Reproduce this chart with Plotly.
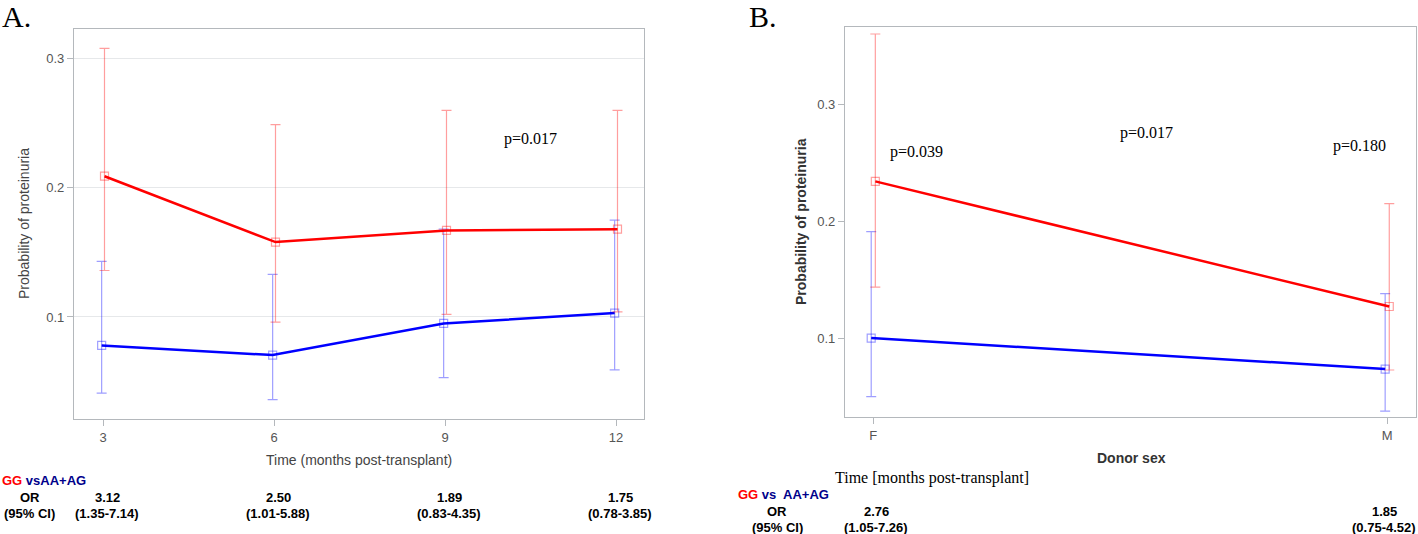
import plotly.graph_objects as go

W, H = 1418, 534

# ---------------- Data ----------------
months = [3, 6, 9, 12]
gg_a = [0.209, 0.158, 0.167, 0.168]
gg_a_hi = [0.308, 0.249, 0.260, 0.260]
gg_a_lo = [0.136, 0.096, 0.102, 0.104]
aa_a = [0.078, 0.0705, 0.095, 0.103]
aa_a_hi = [0.143, 0.133, 0.168, 0.175]
aa_a_lo = [0.041, 0.036, 0.053, 0.059]
or_a = ["3.12", "2.50", "1.89", "1.75"]
ci_a = ["(1.35-7.14)", "(1.01-5.88)", "(0.83-4.35)", "(0.78-3.85)"]

sex = ["F", "M"]
sex_pos = [0, 1]
gg_b = [0.234, 0.127]
gg_b_hi = [0.360, 0.215]
gg_b_lo = [0.1436, 0.0727]
aa_b = [0.100, 0.0735]
aa_b_hi = [0.191, 0.138]
aa_b_lo = [0.050, 0.0376]
or_b = ["2.76", "1.85"]
ci_b = ["(1.05-7.26)", "(0.75-4.52)"]

RED = "#ff0000"
BLUE = "#0000ff"
RED_L = "rgba(255,0,0,0.38)"
BLUE_L = "rgba(0,0,255,0.38)"
SANS = "Liberation Sans, Arial, sans-serif"
SERIF = "Liberation Serif, Times New Roman, serif"

def px(x):
    return x / W

def py(y):
    return 1 - y / H

def err(vals, hi, lo):
    return [h - v for v, h in zip(vals, hi)], [v - l for v, l in zip(vals, lo)]

fig = go.Figure()

def add_series(x, vals, hi, lo, col, col_l, xa, ya, dx):
    up, dn = err(vals, hi, lo)
    fig.add_trace(go.Scatter(
        x=[v + dx for v in x], y=vals, mode="lines+markers",
        line=dict(color=col, width=2.5),
        marker=dict(symbol="square-open", size=8, color=col_l, line=dict(width=1.2, color=col_l)),
        error_y=dict(type="data", array=up, arrayminus=dn, color=col_l, thickness=1.2, width=5),
        xaxis=xa, yaxis=ya, showlegend=False, hoverinfo="skip"))

DA = 0.05   # small dodge (months)
DB = 0.004  # small dodge (category units)
add_series(months, aa_a, aa_a_hi, aa_a_lo, BLUE, BLUE_L, "x", "y", -DA / 2)
add_series(months, gg_a, gg_a_hi, gg_a_lo, RED, RED_L, "x", "y", DA / 2)
add_series(sex_pos, aa_b, aa_b_hi, aa_b_lo, BLUE, BLUE_L, "x2", "y2", -DB)
add_series(sex_pos, gg_b, gg_b_hi, gg_b_lo, RED, RED_L, "x2", "y2", DB)

axis_common = dict(showline=True, linecolor="#b4b8bc", linewidth=1.3, mirror=True,
                   ticks="outside", tickcolor="#b4b8bc", ticklen=6,
                   tickfont=dict(family=SANS, size=13, color="#555555"), zeroline=False)

fig.update_layout(
    width=W, height=H, autosize=False,
    margin=dict(l=0, r=0, t=0, b=0),
    paper_bgcolor="white", plot_bgcolor="white",
    xaxis=dict(domain=[px(74), px(644)], range=[2.49, 12.49], tickvals=months,
               showgrid=False, anchor="y", **axis_common),
    yaxis=dict(domain=[py(419), py(29)], range=[0.021, 0.323], tickvals=[0.1, 0.2, 0.3],
               ticktext=["0.1", "0.2", "0.3"], showgrid=True, gridcolor="#e6e8ea",
               gridwidth=1, anchor="x", **axis_common),
    xaxis2=dict(domain=[px(845), px(1416)], range=[-0.055, 1.056], tickvals=sex_pos,
                ticktext=sex, showgrid=False, anchor="y2", **axis_common),
    yaxis2=dict(domain=[py(417), py(27)], range=[0.0325, 0.366], tickvals=[0.1, 0.2, 0.3],
                ticktext=["0.1", "0.2", "0.3"], showgrid=False, anchor="x2", **axis_common),
)

ann = []

def t(x, y, text, size=13, color="black", family=SANS, xanchor="center", angle=0, **kw):
    ann.append(dict(x=px(x), y=py(y), xref="paper", yref="paper", text=text, showarrow=False,
                    font=dict(size=size, color=color, family=family), xanchor=xanchor,
                    yanchor="middle", textangle=angle, **kw))

# Panel labels
t(0, 17, "A.", size=30, family=SERIF, xanchor="left")
t(747, 17, "B.", size=30, family=SERIF, xanchor="left")

# Axis titles
t(24, 224, "Probability of proteinuria", size=14, color="#444444", angle=-90)
t(359, 460, "Time (months post-transplant)", size=14, color="#444444")
t(801, 222, "<b>Probability of proteinuria</b>", size=14, color="#333333", angle=-90)
t(1131, 458, "<b>Donor sex</b>", size=14, color="#333333")
t(932, 478, "Time [months post-transplant]", size=16, family=SERIF)

# p-values
t(530, 139, "p=0.017", size=16, family=SERIF)
t(916, 152, "p=0.039", size=16, family=SERIF)
t(1146, 133, "p=0.017", size=16, family=SERIF)
t(1359, 146, "p=0.180", size=16, family=SERIF)

# Table under A
t(0, 480, "<b><span style='color:#ff0000'>GG</span> <span style='color:#00008b'>vsAA+AG</span></b>",
  size=13, xanchor="left")
t(30, 497, "<b>OR</b>", size=13)
t(30, 513, "<b>(95% CI)</b>", size=13)
for m, o, c in zip(months, or_a, ci_a):
    for yy, txt in ((497, "<b>" + o + "</b>"), (513, "<b>" + c + "</b>")):
        ann.append(dict(x=m, y=py(yy), xref="x", yref="paper", text=txt, showarrow=False,
                        xshift=4, font=dict(size=13, color="black", family=SANS),
                        xanchor="center", yanchor="middle"))

# Table under B
t(736, 494, "<b><span style='color:#ff0000'>GG</span> <span style='color:#00008b'>vs  AA+AG</span></b>",
  size=13, xanchor="left")
t(777, 511, "<b>OR</b>", size=13)
t(777, 527, "<b>(95% CI)</b>", size=13)
for p, o, c in zip(sex_pos, or_b, ci_b):
    for yy, txt in ((511, "<b>" + o + "</b>"), (527, "<b>" + c + "</b>")):
        ann.append(dict(x=p, y=py(yy), xref="x2", yref="paper", text=txt, showarrow=False,
                        xshift=3 if p == 0 else -3, font=dict(size=13, color="black", family=SANS),
                        xanchor="center", yanchor="middle"))

fig.update_layout(annotations=ann)
fig.write_html("out.html", config={"displayModeBar": False},
               post_script="document.body.style.margin='0';document.body.style.overflow='hidden';")
